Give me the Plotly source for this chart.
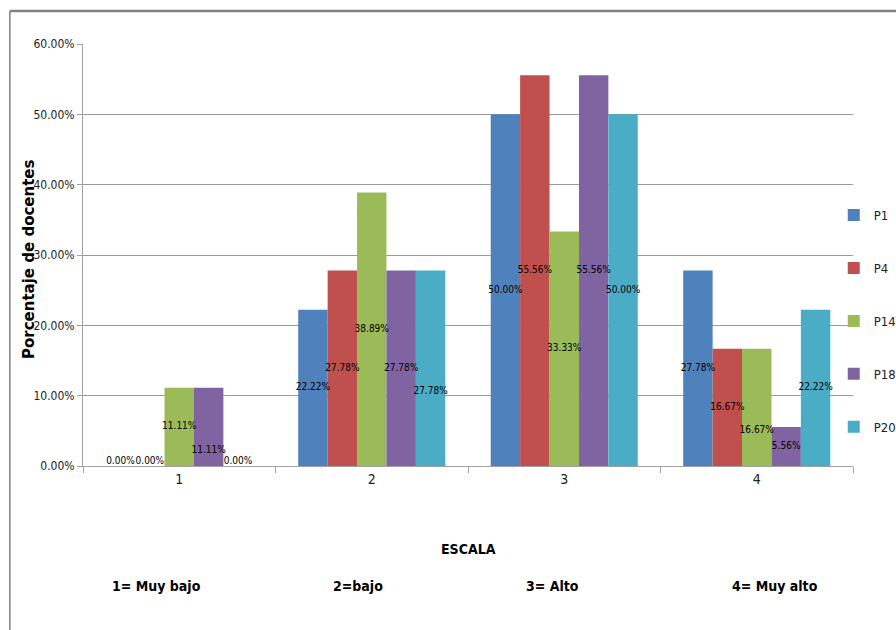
import plotly.graph_objects as go

# Escala de valoración (categorías del eje X)
categorias = ["1", "2", "3", "4"]
escala_etiquetas = ["1= Muy bajo", "2=bajo", "3= Alto", "4= Muy alto"]

# Porcentaje de docentes por pregunta
series = ["P1", "P4", "P14", "P18", "P20"]
p1 = [0.0, 0.2222, 0.5000, 0.2778]
p4 = [0.0, 0.2778, 0.5556, 0.1667]
p14 = [0.1111, 0.3889, 0.3333, 0.1667]
p18 = [0.1111, 0.2778, 0.5556, 0.0556]
p20 = [0.0, 0.2778, 0.5000, 0.2222]
valores = [p1, p4, p14, p18, p20]

colores = ["#4F81BD", "#C0504D", "#9BBB59", "#8064A2", "#4BACC6"]

FUENTE = "DejaVu Sans Condensed, Liberation Sans, sans-serif"
GAP = 0.236
BAJADA = 0.033  # desplazamiento de una etiqueta que chocaría con la de la barra vecina

# Posición vertical de cada etiqueta: centro de la barra; si la barra vecina
# tiene la misma altura, la etiqueta se baja para que no se encimen.
posiciones = []
for s, vals in enumerate(valores):
    fila = []
    for c, v in enumerate(vals):
        y = v / 2
        if s > 0 and v > 0:
            previo = valores[s - 1][c]
            if previo > 0 and abs(previo - v) < 0.005:
                y -= BAJADA
        fila.append(y)
    posiciones.append(fila)

fig = go.Figure()

# Barras agrupadas
for nombre, vals, color in zip(series, valores, colores):
    fig.add_trace(go.Bar(
        name=nombre,
        x=categorias,
        y=vals,
        marker=dict(color=color, line=dict(width=0)),
        legendgroup=nombre,
        hoverinfo="skip",
    ))

# Etiquetas de datos (encima de todas las barras)
for nombre, vals, ys in zip(series, valores, posiciones):
    fig.add_trace(go.Scatter(
        x=categorias,
        y=ys,
        mode="text",
        text=[f"{v:.2%}" for v in vals],
        textposition=["top center" if v == 0 else "middle center" for v in vals],
        textfont=dict(family=FUENTE, size=10, color="#000000"),
        showlegend=False,
        legendgroup=nombre,
        cliponaxis=False,
        hoverinfo="skip",
    ))

fig.update_layout(
    width=896,
    height=630,
    barmode="group",
    bargap=GAP,
    bargroupgap=0,
    scattermode="group",
    scattergap=GAP,
    plot_bgcolor="white",
    paper_bgcolor="white",
    margin=dict(l=83, r=43, t=44, b=164, autoexpand=False),
    font=dict(family=FUENTE, size=13, color="#222222"),
    showlegend=True,
    legend=dict(
        x=0.975, y=0.63, xanchor="left", yanchor="top",
        font=dict(family=FUENTE, size=13, color="#222222"),
        tracegroupgap=33,
        itemwidth=30,
        bgcolor="rgba(0,0,0,0)",
    ),
    xaxis=dict(
        type="category",
        tickson="boundaries",
        ticks="outside",
        ticklen=6,
        tickcolor="#A0A0A0",
        showline=True,
        linecolor="#A0A0A0",
        linewidth=1,
        showgrid=False,
        automargin=False,
        tickfont=dict(family=FUENTE, size=14, color="#222222"),
    ),
    yaxis=dict(
        range=[0, 0.6],
        dtick=0.1,
        tickformat=".2%",
        ticks="outside",
        ticklen=5,
        tickcolor="#A0A0A0",
        showline=True,
        linecolor="#A0A0A0",
        showgrid=True,
        gridcolor="#9A9A9A",
        gridwidth=1,
        zeroline=False,
        automargin=False,
        tickfont=dict(family=FUENTE, size=12, color="#222222"),
    ),
)

# Título del eje Y
fig.add_annotation(
    x=0, y=0.5, xref="paper", yref="paper", xanchor="center", yanchor="middle",
    xshift=-54, yshift=-4,
    text="<b>Porcentaje de docentes</b>", textangle=-90, showarrow=False,
    font=dict(family="DejaVu Sans, sans-serif", size=15, color="#000000"),
)

# Título del eje X
fig.add_annotation(
    x=0.5, y=0, xref="paper", yref="paper", yshift=-93,
    text="<b>ESCALA</b>", showarrow=False,
    font=dict(family=FUENTE, size=14, color="#000000"),
)

# Significado de cada valor de la escala
desplazamientos = [-23, -14, -12, 18]
for i, (etiqueta, dx) in enumerate(zip(escala_etiquetas, desplazamientos)):
    fig.add_annotation(
        x=i, y=0, xref="x", yref="paper",
        xshift=dx, yshift=-130, text=f"<b>{etiqueta}</b>", showarrow=False,
        font=dict(family=FUENTE, size=14, color="#000000"),
    )

# Marco del área del gráfico
fig.add_shape(type="line", xref="paper", yref="paper",
              x0=-0.095, x1=1.1, y0=1.078, y1=1.078,
              line=dict(color="#808080", width=2.5))
fig.add_shape(type="line", xref="paper", yref="paper",
              x0=-0.095, x1=-0.095, y0=1.078, y1=-0.4,
              line=dict(color="#808080", width=1.5))

fig.write_html("out.html")
